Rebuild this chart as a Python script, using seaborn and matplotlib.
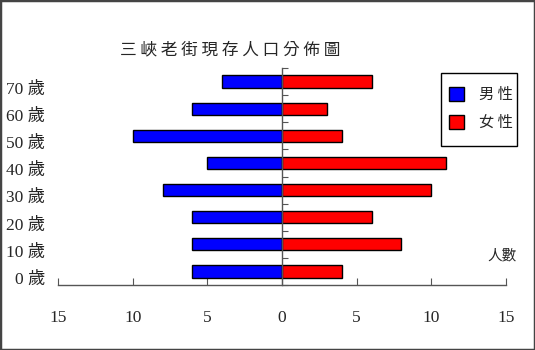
import pandas as pd
import matplotlib
matplotlib.use('Agg')
import matplotlib.pyplot as plt
from matplotlib.patches import Rectangle
from matplotlib.transforms import blended_transform_factory
import seaborn as sns

ages = ['70 歲', '60 歲', '50 歲', '40 歲', '30 歲', '20 歲', '10 歲', '0 歲']
male = [4, 6, 10, 5, 8, 6, 6, 6]
female = [6, 3, 4, 11, 10, 6, 8, 4]
genders = ['男性', '女性']
title = '三峽老街現存人口分佈圖'
xticks = [-15, -10, -5, 0, 5, 10, 15]
xticklabels = ['15', '10', '5', '0', '5', '10', '15']


def main():
	sns.set_style('white')
	plt.rcParams['font.family'] = ['Liberation Serif', 'Noto Sans CJK TC', 'DejaVu Sans']

	df = pd.DataFrame({
		'age': ages * 2,
		'gender': [genders[0]] * len(ages) + [genders[1]] * len(ages),
		'value': [-m for m in male] + female,
	})

	fig = plt.figure(figsize=(5.35, 3.5), dpi=100)
	ax = fig.add_axes([0.1084, 0.1857, 0.8374, 0.62])

	sns.barplot(data=df, x='value', y='age', hue='gender', order=ages, hue_order=genders,
		palette=['#0000ff', '#ff0000'], saturation=1, dodge=False, width=0.45, orient='h',
		edgecolor='black', linewidth=1, ax=ax, legend=False)

	ax.set_xlim(-15, 15)
	ax.set_ylim(len(ages) - 0.5, -0.5)
	ax.set_xlabel('')
	ax.set_ylabel('')

	ax.spines['top'].set_visible(False)
	ax.spines['right'].set_visible(False)
	ax.spines['left'].set_position(('data', 0))
	for s in ['left', 'bottom']:
		ax.spines[s].set_color('#555555')
		ax.spines[s].set_linewidth(1)

	ax.set_xticks(xticks)
	ax.set_xticklabels(xticklabels)
	ax.tick_params(axis='x', direction='in', length=5, color='#555555', pad=18,
		labelsize=12.5, bottom=True)
	ax.set_yticks([i - 0.5 for i in range(len(ages) + 1)])
	ax.tick_params(axis='y', direction='in', length=4, color='#555555', left=True,
		labelleft=False)

	trans = blended_transform_factory(ax.transAxes, ax.transData)
	for i, a in enumerate(ages):
		ax.text(-0.028, i + 0.3, a, transform=trans, ha='right', va='center', fontsize=12.5)

	# title with spaced characters
	fig.text(0.43, 0.857, ' '.join(title), ha='center', va='center', fontsize=12,
		family=['Noto Sans CJK TC', 'DejaVu Sans'])

	fig.text(0.966, 0.271, '人數', ha='right', va='center', fontsize=10.5,
		family=['Noto Sans CJK TC'])

	# legend
	fig.patches.append(Rectangle((0.824, 0.583), 0.142, 0.208, transform=fig.transFigure,
		facecolor='white', edgecolor='black', linewidth=1))
	handles = [Rectangle((0, 0), 1, 1, facecolor=c, edgecolor='black', linewidth=1)
		for c in ['#0000ff', '#ff0000']]
	fig.legend(handles, [' '.join(g) for g in genders], loc='upper left',
		bbox_to_anchor=(0.81, 0.797),
		frameon=False, handlelength=1.0, handleheight=1.0, labelspacing=0.7,
		handletextpad=1.0, borderpad=0.5,
		prop={'family': ['Noto Sans CJK TC', 'DejaVu Sans'], 'size': 11})

	fig.patches.append(Rectangle((0, 0), 1, 1, transform=fig.transFigure,
		facecolor='none', edgecolor='#444444', linewidth=2.5))

	fig.savefig('out.png', dpi=100)


if __name__ == "__main__":
	main()
